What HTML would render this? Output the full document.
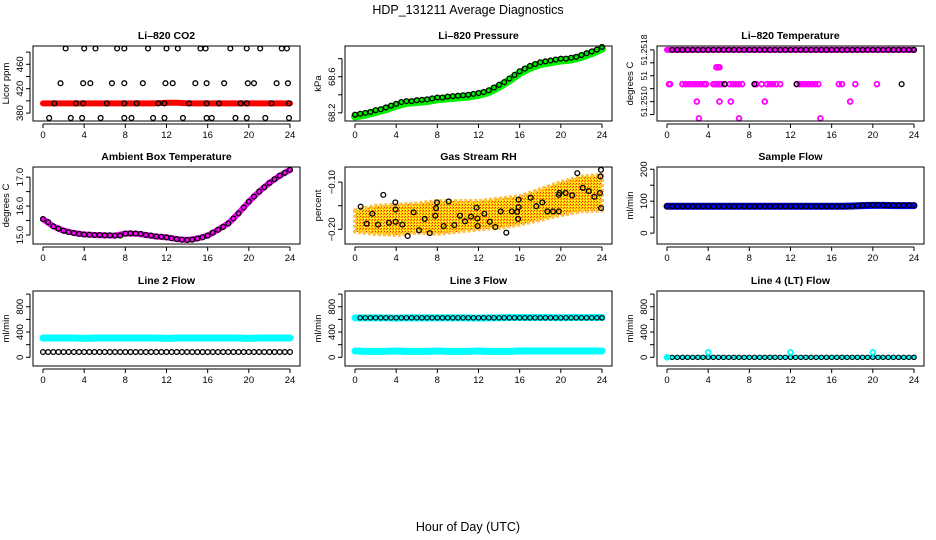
<!DOCTYPE html>
<html><head><meta charset="utf-8"><style>
html,body{margin:0;padding:0;background:#fff;}
svg{display:block;font-family:"Liberation Sans",sans-serif;}
</style></head><body>
<svg id="chart" width="936" height="540" viewBox="0 0 936 540" xmlns="http://www.w3.org/2000/svg">
<defs>
<pattern id="dither" width="3" height="3" patternUnits="userSpaceOnUse"><rect width="3" height="3" fill="#ffd400"/><rect width="1" height="1" fill="#ff2000"/><rect x="2" y="1" width="1" height="1" fill="#ff6000"/><rect x="1" y="2" width="1" height="1" fill="#ffff40"/></pattern>
</defs>
<text x="468" y="14" text-anchor="middle" font-size="12.5">HDP_131211  Average Diagnostics</text>
<text x="468" y="531" text-anchor="middle" font-size="12.5">Hour of Day (UTC)</text>
</svg>
<script>
// ---- data ----
const xTicks = [0,4,8,12,16,20,24];
const hourly = [0,1,2,3,4,5,6,7,8,9,10,11,12,13,14,15,16,17,18,19,20,21,22,23,24];
const halfHours = [0.5,1,1.5,2,2.5,3,3.5,4,4.5,5,5.5,6,6.5,7,7.5,8,8.5,9,9.5,10,10.5,11,11.5,12,12.5,13,13.5,14,14.5,15,15.5,16,16.5,17,17.5,18,18.5,19,19.5,20,20.5,21,21.5,22,22.5,23,23.5,24,24];
const halfHours0 = [0,0.5,1,1.5,2,2.5,3,3.5,4,4.5,5,5.5,6,6.5,7,7.5,8,8.5,9,9.5,10,10.5,11,11.5,12,12.5,13,13.5,14,14.5,15,15.5,16,16.5,17,17.5,18,18.5,19,19.5,20,20.5,21,21.5,22,22.5,23,23.5,24];

// CO2
const co2Red = [396,396,396,396,396,396,396,396,396,396,396,396,397,397,396,396,396,396,396,396,396,396,396,396,396];
const co2BlackHours = [2.2,4.0,5.1,7.2,7.9,10.2,12.0,13.1,15.3,15.8,18.2,19.8,21.1,23.2,23.7,
 1.7,3.9,4.6,6.7,7.9,9.7,11.9,12.6,14.8,15.9,17.6,19.9,20.5,22.7,23.8,
 1.1,3.2,3.9,6.2,7.9,9.1,11.2,11.8,14.2,15.9,17.1,19.2,19.8,22.2,23.9,
 0.6,2.7,3.8,5.6,7.9,8.6,10.7,11.8,13.6,15.9,16.4,18.7,19.8,21.6,23.9];
const co2BlackVals = [486,486,486,486,486,486,486,486,486,486,486,486,486,486,486,
 429,429,429,429,429,429,429,429,429,429,429,429,429,429,429,
 396,396,396,396,396,396,396,396,396,396,396,396,396,396,396,
 372,372,372,372,372,372,372,372,372,372,372,372,372,372,372];

// Pressure
const pressGreen = [68.16,68.18,68.21,68.24,68.28,68.31,68.32,68.33,68.35,68.36,68.37,68.38,68.40,68.43,68.49,68.56,68.64,68.70,68.74,68.76,68.78,68.79,68.82,68.86,68.91];
const pressBlack = [68.18,68.19,68.20,68.21,68.23,68.24,68.26,68.28,68.30,68.32,68.33,68.33,68.34,68.345,68.35,68.36,68.37,68.37,68.38,68.385,68.39,68.395,68.40,68.41,68.42,68.43,68.45,68.48,68.51,68.54,68.58,68.62,68.66,68.69,68.72,68.74,68.76,68.77,68.78,68.79,68.80,68.80,68.81,68.82,68.84,68.86,68.88,68.90,68.93];

// Li-820 temperature
const tempMagTop = [51.2518,51.2518,51.2518,51.2518,51.2518,51.2518,51.2518,51.2518,51.2518,51.2518,51.2518,51.2518,51.2518,51.2518,51.2518,51.2518,51.2518,51.2518,51.2518,51.2518,51.2518,51.2518,51.2518,51.2518,51.2518];
const tempBlackTop = [51.2518,51.2518,51.2518,51.2518,51.2518,51.2518,51.2518,51.2518,51.2518,51.2518,51.2518,51.2518,51.2518,51.2518,51.2518,51.2518,51.2518,51.2518,51.2518,51.2518,51.2518,51.2518,51.2518,51.2518,51.2518,51.2518,51.2518,51.2518,51.2518,51.2518,51.2518,51.2518,51.2518,51.2518,51.2518,51.2518,51.2518,51.2518,51.2518,51.2518,51.2518,51.2518,51.2518,51.2518,51.2518,51.2518,51.2518,51.2518,51.2518];
const tempMagHours = [0.2,0.3,1.5,1.8,2.1,2.4,2.7,3.0,3.3,3.6,3.8,4.5,4.7,4.9,5.1,5.3,5.6,6.1,6.4,6.7,7.0,7.3,8.5,8.7,9.2,9.7,10.0,10.3,10.6,11.0,12.6,12.9,13.2,13.5,13.8,14.1,14.4,14.7,16.7,17.0,18.3,20.4,
 4.8,5.0,5.1, 2.9,5.1,6.2,9.5,17.8, 3.1,7.0,14.9];
const tempMagVals = [51.25127,51.25127,51.25127,51.25127,51.25127,51.25127,51.25127,51.25127,51.25127,51.25127,51.25127,51.25127,51.25127,51.25127,51.25127,51.25127,51.25127,51.25127,51.25127,51.25127,51.25127,51.25127,51.25127,51.25127,51.25127,51.25127,51.25127,51.25127,51.25127,51.25127,51.25127,51.25127,51.25127,51.25127,51.25127,51.25127,51.25127,51.25127,51.25127,51.25127,51.25127,51.25127,
 51.25153,51.25153,51.25153, 51.2510,51.2510,51.2510,51.2510,51.2510, 51.25074,51.25074,51.25074];
const tempBlackHours = [5.6,8.5,12.6,22.8];
const tempBlackVals = [51.25127,51.25127,51.25127,51.25127];

// Ambient box temperature
const ambMag = [15.55,15.3,15.15,15.07,15.02,15.0,14.99,14.98,15.05,15.05,15.0,14.95,14.92,14.86,14.83,14.88,14.98,15.18,15.4,15.75,16.15,16.5,16.8,17.05,17.25];
const ambBlack = [15.55,15.45,15.3,15.22,15.15,15.1,15.07,15.04,15.02,15.01,15.0,15.0,14.99,14.99,14.98,14.98,15.05,15.06,15.05,15.04,15.0,14.98,14.95,14.94,14.92,14.89,14.86,14.84,14.83,14.84,14.88,14.92,14.98,15.08,15.18,15.28,15.4,15.57,15.75,15.95,16.15,16.33,16.5,16.65,16.8,16.93,17.05,17.15,17.25];

// Gas stream RH
const rhBandHours = [0,2,4,6,8,10,12,14,16,18,20,22,24];
const rhBandLow = [-0.205,-0.21,-0.212,-0.207,-0.21,-0.205,-0.2,-0.197,-0.19,-0.18,-0.17,-0.162,-0.16];
const rhBandHigh = [-0.16,-0.15,-0.148,-0.145,-0.14,-0.14,-0.14,-0.135,-0.13,-0.115,-0.1,-0.088,-0.085];
const rhHours = [0.55,1.13,1.68,2.24,2.75,3.3,3.92,3.95,3.95,4.6,5.12,5.7,6.22,6.77,7.26,7.8,7.87,7.97,8.62,9.1,9.65,10.2,10.69,11.27,11.82,11.89,11.92,12.57,13.1,13.63,14.16,14.7,15.23,15.75,15.85,15.9,15.9,17.07,17.62,18.2,18.69,19.24,19.8,19.8,19.87,20.47,21.1,21.6,22.13,22.71,23.26,23.8,23.85,23.9,23.9];
const rhVals = [-0.152,-0.188,-0.167,-0.19,-0.127,-0.186,-0.143,-0.158,-0.184,-0.19,-0.214,-0.164,-0.202,-0.178,-0.208,-0.171,-0.155,-0.143,-0.193,-0.141,-0.191,-0.171,-0.183,-0.173,-0.154,-0.177,-0.193,-0.167,-0.184,-0.195,-0.162,-0.207,-0.162,-0.163,-0.178,-0.153,-0.137,-0.133,-0.151,-0.143,-0.162,-0.162,-0.162,-0.127,-0.123,-0.123,-0.128,-0.081,-0.112,-0.119,-0.131,-0.123,-0.088,-0.074,-0.155];

// Sample flow
const sampleBlue = [84,84,84,84,84,84,84,84,84,84,84,84,84,84,84,84,84,84,85,86,87,87,86,86,86];
const sampleBlack = [84,84,84,84,84,84,84,84,84,84,84,84,84,84,84,84,84,84,84,84,84,84,84,84,84,84,84,84,84,84,84,84,84,84,84,84,84,86,87,88,88,88,87,87,87,87,87,87,87];

// Line 2 flow
const line2Cyan = [305,305,305,305,300,305,305,305,305,305,305,305,300,305,305,305,305,305,305,305,300,305,305,305,305];
const line2Black = [84,84,84,84,84,84,84,84,84,84,84,84,84,84,84,84,84,84,84,84,84,84,84,84,84,84,84,84,84,84,84,84,84,84,84,84,84,84,84,84,84,84,84,84,84,84,84,84,84];
// Line 3 flow
const line3CyanHigh = [625,625,625,625,620,625,625,625,625,625,625,625,620,625,625,630,630,630,630,630,625,630,630,630,630];
const line3CyanLow = [100,95,95,95,100,95,95,95,100,95,95,95,100,95,95,95,100,100,100,100,100,100,100,100,100];
const line3Black = [625,625,625,625,625,625,625,625,625,625,625,625,625,625,625,625,625,625,625,625,625,625,625,625,625,625,625,625,625,625,625,625,625,625,625,625,625,625,625,625,625,625,625,625,625,625,625,625,625];
// Line 4 flow
const line4Cyan = [0,0,0,0,0,0,0,0,0,0,0,0,0,0,0,0,0,0,0,0,0,0,0,0,0];
const line4SpikeHours = [0,4,12,20];
const line4SpikeVals = [0,80,80,80];
const line4Black = [0,0,0,0,0,0,0,0,0,0,0,0,0,0,0,0,0,0,0,0,0,0,0,0,0,0,0,0,0,0,0,0,0,0,0,0,0,0,0,0,0,0,0,0,0,0,0,0,0];

// ---- drawing ----
const NS = "http://www.w3.org/2000/svg";
const svg = document.getElementById('chart');
function mk(tag, attrs, parent){ const e=document.createElementNS(NS,tag); for(const k in attrs) e.setAttribute(k,attrs[k]); (parent||svg).appendChild(e); return e; }
const tops=[46,167,291], bottoms=[121,244,366];

function panel(col,row,title,ylab,ymin,ymax,yticks,ylabels,name,lblSize){
  const L=33+col*312, R=300+col*312, T=tops[row], B=bottoms[row];
  const g=mk('g',{});
  
  
  const x=h=>L+10+h*(247/24);
  const y=v=>B-(v-ymin)/(ymax-ymin)*(B-T);
  const plot=mk('g',{},g);
  
  
  const frame=mk('rect',{x:L,y:T,width:R-L,height:B-T,fill:'none',stroke:'#000','stroke-width':1},g);
  
  
  const tt=mk('text',{x:(L+R)/2,y:T-7,'text-anchor':'middle','font-size':10.5,'font-weight':'bold'},g);
  tt.textContent=title;
  
  
  const yl=mk('text',{x:0,y:0,'text-anchor':'middle','font-size':9.5,transform:`translate(${L-24},${(T+B)/2}) rotate(-90)`},g);
  yl.textContent=ylab;
  
  
  const xa=mk('g',{},g);
  
  
  mk('line',{x1:x(xTicks[0]),x2:x(xTicks[xTicks.length-1]),y1:B+3,y2:B+3,stroke:'#000'},xa);
  xTicks.forEach(t=>{
    mk('line',{x1:x(t),x2:x(t),y1:B+3,y2:B+7,stroke:'#000'},xa);
    const lb=mk('text',{x:x(t),y:B+17,'text-anchor':'middle','font-size':9.5},xa);
    lb.textContent=t;
    
    
  });
  const ya=mk('g',{},g);
  
  
  mk('line',{x1:L-3,x2:L-3,y1:y(yticks[0]),y2:y(yticks[yticks.length-1]),stroke:'#000'},ya);
  yticks.forEach((t,i)=>{
    mk('line',{x1:L-3,x2:L-7,y1:y(t),y2:y(t),stroke:'#000'},ya);
    if(ylabels[i]){
      const lb=mk('text',{x:0,y:0,'text-anchor':'middle','font-size':lblSize||9.5,transform:`translate(${L-10},${y(t)}) rotate(-90)`},ya);
      lb.textContent=ylabels[i];
      
      
    }
  });
  return {x,y,g:plot};
}
function thick(p,hours,vals,color,w,name){
  const pl=mk('polyline',{points:hours.map((h,i)=>p.x(h)+','+p.y(vals[i])).join(' '),fill:'none',stroke:color,'stroke-width':w,'stroke-linecap':'round','stroke-linejoin':'round'},p.g);
  
  
}
function pts(p,hours,vals,color,name,r,sw){
  hours.forEach((h,i)=>{
    const c=mk('circle',{cx:p.x(h),cy:p.y(vals[i]),r:r||2.4,fill:'none',stroke:color,'stroke-width':sw||1.3},p.g);
    
    
  });
}

// 1 CO2
let p=panel(0,0,'Li–820 CO2','Licor ppm',367,490,[380,400,420,440,460,480],['380','','420','','460',''],'co2');
thick(p,hourly,co2Red,'#ff0000',6,'co2-red-series');
pts(p,co2BlackHours,co2BlackVals,'#000','co2-black-point');

// 2 Pressure
p=panel(1,0,'Li–820 Pressure','kPa',68.11,68.94,[68.2,68.4,68.6,68.8],['68.2','','68.6',''],'pressure');
thick(p,hourly,pressGreen,'#00ee00',8,'pressure-green-series');
pts(p,halfHours0,pressBlack,'#000','pressure-black-point');

// 3 Temperature
p=panel(2,0,'Li–820 Temperature','degrees C',51.2507,51.25186,[51.2518,51.2516,51.2514,51.2512,51.2510,51.2508],['51.2518','','51','','51.2510',''],'li820-temp',8.5);
thick(p,hourly,tempMagTop,'#ff00ff',6,'li820-temp-magenta-series');
pts(p,halfHours,tempBlackTop,'#000','li820-temp-black-point');
pts(p,tempMagHours,tempMagVals,'#ff00ff','li820-temp-magenta-point',2.4,1.8);
pts(p,tempBlackHours,tempBlackVals,'#000','li820-temp-black-point');

// 4 Ambient
p=panel(0,1,'Ambient Box Temperature','degrees C',14.69,17.35,[15,15.5,16,16.5,17],['15.0','','16.0','','17.0'],'ambient-temp');
thick(p,hourly,ambMag,'#ff00ff',6,'ambient-magenta-series');
pts(p,halfHours0,ambBlack,'#000','ambient-black-point');

// 5 RH
p=panel(1,1,'Gas Stream RH','percent',-0.231,-0.068,[-0.2,-0.15,-0.1],['−0.20','','−0.10'],'rh');
{
  const up=rhBandHours.map((h,i)=>p.x(h)+','+p.y(rhBandHigh[i]));
  const lo=rhBandHours.map((h,i)=>p.x(h)+','+p.y(rhBandLow[i])).reverse();
  const band=mk('polygon',{points:up.concat(lo).join(' '),fill:'url(#dither)',stroke:'#ffc040','stroke-width':4,'stroke-linejoin':'round','stroke-dasharray':'3 2'},p.g);
  
  
}
pts(p,rhHours,rhVals,'#000','rh-black-point');

// 6 Sample flow
p=panel(2,1,'Sample Flow','ml/min',-34,207,[0,50,100,150,200],['0','','100','','200'],'sample-flow');
thick(p,hourly,sampleBlue,'#0000ff',7,'sample-flow-blue-series');
pts(p,halfHours0,sampleBlack,'#000','sample-flow-black-point');

// 7 Line 2
const flowTicks=[0,200,400,600,800,1000], flowLabels=['0','','400','','800',''];
p=panel(0,2,'Line 2 Flow','ml/min',-137,1049,flowTicks,flowLabels,'line2-flow');
thick(p,hourly,line2Cyan,'#00ffff',7,'line2-cyan-series');
pts(p,halfHours0,line2Black,'#000','line2-black-point');

// 8 Line 3
p=panel(1,2,'Line 3 Flow','ml/min',-137,1049,flowTicks,flowLabels,'line3-flow');
thick(p,hourly,line3CyanHigh,'#00ffff',7,'line3-cyan-high-series');
thick(p,hourly,line3CyanLow,'#00ffff',7,'line3-cyan-low-series');
pts(p,halfHours,line3Black,'#000','line3-black-point',2.2,1.1);

// 9 Line 4
p=panel(2,2,'Line 4 (LT) Flow','ml/min',-137,1049,flowTicks,flowLabels,'line4-flow');
thick(p,hourly,line4Cyan,'#00ffff',4,'line4-cyan-series');
pts(p,halfHours,line4Black,'#000','line4-black-point',2.2,1.1);
pts(p,line4SpikeHours,line4SpikeVals,'#00ffff','line4-cyan-spike',2.4,1.8);
</script>
</body></html>
